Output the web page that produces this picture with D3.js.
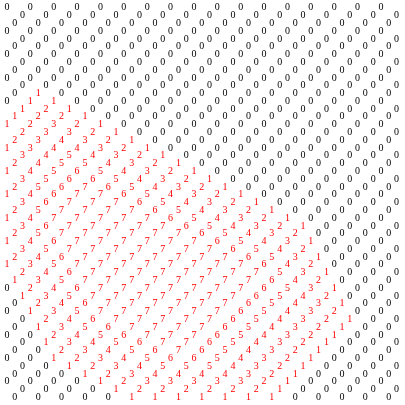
<!DOCTYPE html>
<html>
<head>
<meta charset="utf-8">
<script src="https://cdn.jsdelivr.net/npm/d3@7"></script>
<style>
  html, body { margin: 0; padding: 0; background: #fff; }
  svg { display: block; will-change: transform; }
</style>
</head>
<body>
<svg id="chart" width="405" height="405"></svg>
<script>
// Grid values: one string per row (row 0 at top).
// Each row holds the 17 cells of a staggered lattice; row r starts at column (3 - r % 3) % 3
// and steps by 3 columns.
const rowValues = [
  "00000000000000000", // 0
  "00000000000000000", // 1
  "00000000000000000", // 2
  "00000000000000000", // 3
  "00000000000000000", // 4
  "00000000000000000", // 5
  "00000000000000000", // 6
  "00000000000000000", // 7
  "00000000000000000", // 8
  "00000000000000000", // 9
  "00000000000000000", // 10
  "01000000000000000", // 11
  "01100000000000000", // 12
  "12100000000000000", // 13
  "12210000000000000", // 14
  "12321000000000000", // 15
  "23321000000000000", // 16
  "23432100000000000", // 17
  "13443210000000000", // 18
  "34543210000000000", // 19
  "24554321000000000", // 20
  "14565432100000000", // 21
  "35665432100000000", // 22
  "25676543210000000", // 23
  "14677654321000000", // 24
  "36777654321000000", // 25
  "25777765432100000", // 26
  "14777776543210000", // 27
  "36777776543210000", // 28
  "25777777654320000", // 29
  "14677777765431000", // 30
  "35777777765420000", // 31
  "24677777776531000", // 32
  "13577777777642000", // 33
  "24677777777531000", // 34
  "13577777777642000", // 35
  "02467777777653100", // 36
  "13577777776542000", // 37
  "02467777776543100", // 38
  "01357777776543200", // 39
  "02467777765432100", // 40
  "01356777765432100", // 41
  "00245677765432100", // 42
  "01345677654321000", // 43
  "00234567654321000", // 44
  "00123456654321000", // 45
  "00123455543210000", // 46
  "00012344443210000", // 47
  "00001233333210000", // 48
  "00001222222100000", // 49
  "00000111111100000"  // 50
];
const columnCount = 51;
const rowCount = rowValues.length;
const zeroColor = "#000000";
const valueColor = "#ff0000";

const cells = [];
rowValues.forEach((str, r) => {
  const start = (3 - (r % 3)) % 3;
  str.split("").forEach((ch, k) => {
    cells.push({ row: r, col: start + 3 * k, value: +ch });
  });
});

const x = d3.scaleLinear().domain([0, columnCount - 1]).range([7, 396.5]);
const y = d3.scaleLinear().domain([0, rowCount - 1]).range([7, 396.5]);

const svg = d3.select("#chart");
const filter = svg.append("defs").append("filter")
  .attr("id", "flat")
  .attr("filterUnits", "userSpaceOnUse")
  .attr("x", 0).attr("y", 0).attr("width", 405).attr("height", 405);
filter.append("feOffset").attr("dx", 0).attr("dy", 0);

svg.append("g")
  .attr("filter", "url(#flat)")
  .selectAll("text")
  .data(cells)
  .join("text")
  .attr("x", d => x(d.col))
  .attr("y", d => y(d.row) + 3.4)
  .attr("text-anchor", "middle")
  .attr("font-family", "'Liberation Serif', 'Times New Roman', serif")
  .attr("font-size", 10)
  .attr("fill", d => d.value === 0 ? zeroColor : valueColor)
  .text(d => d.value);
</script>
</body>
</html>
